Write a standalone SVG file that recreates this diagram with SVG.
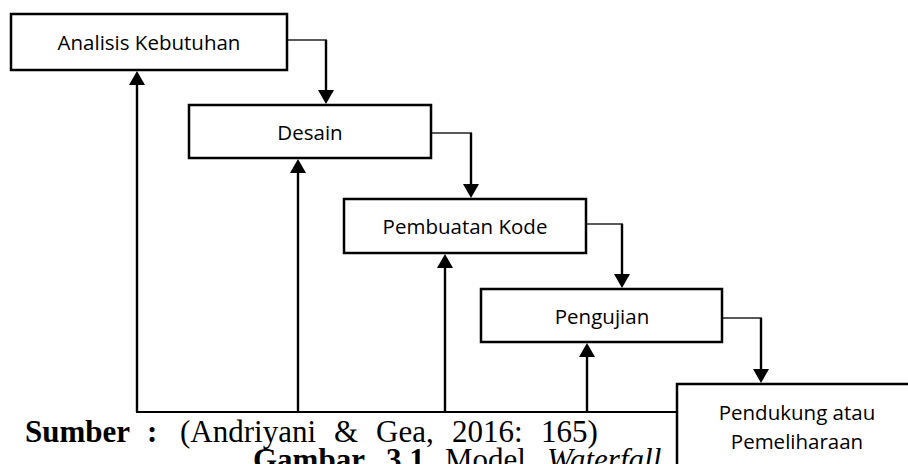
<svg xmlns="http://www.w3.org/2000/svg" width="908" height="464" viewBox="0 0 908 464">
  <style>
    .box { fill: #fff; stroke: #000; stroke-width: 2.5; }
    .lbl { font-family: "Open Sans", "Liberation Sans", sans-serif; font-size: 20.5px; fill: #000; text-anchor: middle; }
    .thin { stroke: #222; stroke-width: 1.3; fill: none; }
    .thick { stroke: #000; stroke-width: 2.4; fill: none; }
    .arr { marker-end: url(#head); }
    .cap { font-family: "Liberation Serif", "Times New Roman", serif; font-size: 31px; fill: #000; }
    .b { font-weight: bold; }
    .i { font-style: italic; }
  </style>
  <defs>
    <marker id="head" viewBox="0 0 14 16" refX="4" refY="8" markerWidth="14" markerHeight="16" markerUnits="userSpaceOnUse" orient="auto">
      <path d="M0,0 L14,8 L0,16 Z" fill="#000"/>
    </marker>
  </defs>

  <!-- caption (partly covered by the last stage box) -->
  <g id="caption">
    <text class="cap b" x="25" y="442">Sumber</text>
    <text class="cap b" x="147" y="442">:</text>
    <text class="cap" x="180" y="442">(Andriyani</text>
    <text class="cap" x="334" y="442">&amp;</text>
    <text class="cap" x="376" y="442">Gea,</text>
    <text class="cap" x="452" y="442">2016:</text>
    <text class="cap" x="541" y="442">165)</text>
    <text class="cap b" x="253" y="470">Gambar</text>
    <text class="cap b" x="386" y="470">3.1</text>
    <text class="cap" x="445" y="470">Model</text>
    <text class="cap i" x="547" y="470">Waterfall</text>
  </g>

  <!-- connectors -->
  <g id="connectors">
    <!-- step-down links between stages -->
    <line class="thin" x1="287" y1="40" x2="327" y2="40"/>
    <line class="thick arr" x1="326" y1="40" x2="326" y2="94"/>
    <line class="thin" x1="431" y1="133" x2="472" y2="133"/>
    <line class="thick arr" x1="471" y1="133" x2="471" y2="188"/>
    <line class="thin" x1="586" y1="224" x2="623" y2="224"/>
    <line class="thick arr" x1="622" y1="224" x2="622" y2="278"/>
    <line class="thin" x1="722" y1="318" x2="762" y2="318"/>
    <line class="thick arr" x1="761" y1="318" x2="761" y2="373"/>
    <!-- feedback return line and upward arrows -->
    <line class="thick" x1="136" y1="412" x2="678" y2="412" style="stroke-width:2"/>
    <line class="thick arr" x1="137" y1="412" x2="137" y2="81"/>
    <line class="thick arr" x1="298" y1="412" x2="298" y2="169"/>
    <line class="thick arr" x1="445" y1="412" x2="445" y2="264"/>
    <line class="thick arr" x1="587" y1="412" x2="587" y2="353"/>
  </g>

  <g id="analisis">
    <rect class="box" x="11" y="14" width="276" height="56"/>
    <text class="lbl" x="149" y="50">Analisis Kebutuhan</text>
  </g>
  <g id="desain">
    <rect class="box" x="189" y="105" width="242" height="53"/>
    <text class="lbl" x="310" y="140">Desain</text>
  </g>
  <g id="pembuatan">
    <rect class="box" x="344" y="199" width="242" height="54"/>
    <text class="lbl" x="465" y="234">Pembuatan Kode</text>
  </g>
  <g id="pengujian">
    <rect class="box" x="481" y="289" width="241" height="53"/>
    <text class="lbl" x="602" y="324">Pengujian</text>
  </g>
  <g id="pendukung">
    <rect class="box" x="677" y="384" width="260" height="100"/>
    <text class="lbl" x="797" y="420">Pendukung atau</text>
    <text class="lbl" x="797" y="449">Pemeliharaan</text>
  </g>
</svg>
